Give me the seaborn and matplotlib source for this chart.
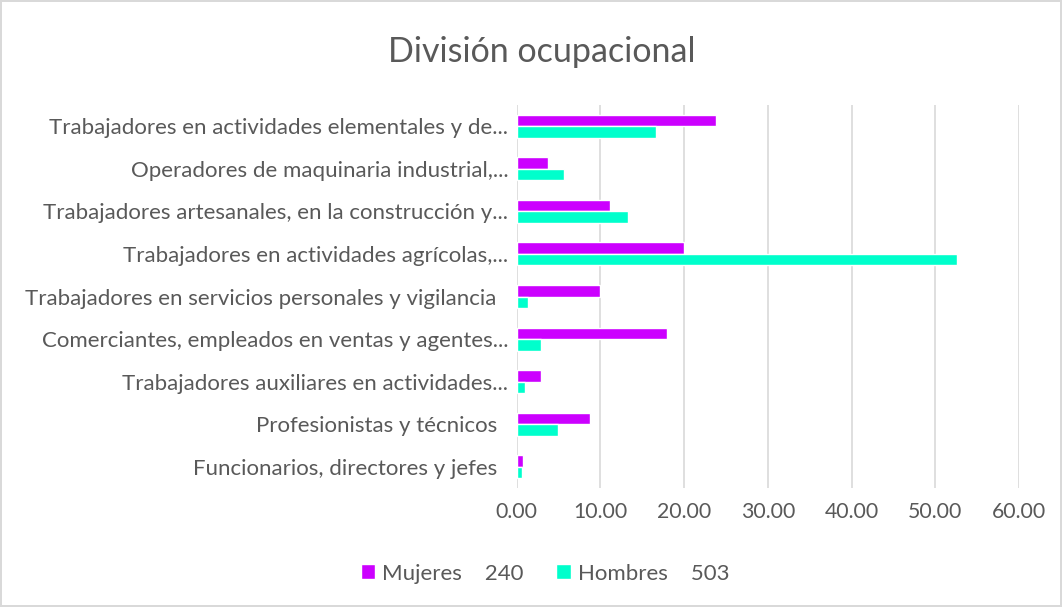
#occupational division chart, horizontal grouped bars
import pandas as pd
import numpy as np
import matplotlib
matplotlib.use('Agg')
import matplotlib.pyplot as plt
import seaborn as sns

categorias = ['Trabajadores en actividades elementales y de...',
              'Operadores de maquinaria industrial,...',
              'Trabajadores artesanales, en la construcción y...',
              'Trabajadores en actividades agrícolas,...',
              'Trabajadores en servicios personales y vigilancia\u00a0\u00a0',
              'Comerciantes, empleados en ventas y agentes...',
              'Trabajadores auxiliares en actividades...',
              'Profesionistas y técnicos\u00a0\u00a0',
              'Funcionarios, directores y jefes\u00a0\u00a0']
mujeres = [23.8, 3.7, 11.2, 20.0, 10.0, 17.9, 2.9, 8.8, 0.8]
hombres = [16.7, 5.6, 13.3, 52.6, 1.4, 2.9, 1.0, 4.9, 0.6]
series = ['Mujeres    240', 'Hombres    503']
xticks = [0, 10, 20, 30, 40, 50, 60]

df = pd.DataFrame({'cat': categorias * 2,
                   'valor': mujeres + hombres,
                   'serie': [series[0]] * len(categorias) + [series[1]] * len(categorias)})

sns.set_style('white')
plt.rcParams['font.family'] = ['Lato', 'DejaVu Sans']
gris = '#595959'

fig = plt.figure(figsize=(10.62, 6.07), dpi=100, edgecolor='#D9D9D9', linewidth=1.5)
ax = fig.add_axes([0.4865, 0.196, 0.4730, 0.631])

sns.barplot(data=df, y='cat', x='valor', hue='serie', orient='h', saturation=1,
            palette=['#CC00FF', '#00FFCC'], width=0.54, ax=ax, legend=True)

ax.set_xlim(0, 60)
ax.set_xticks(xticks)
ax.set_xticklabels(['%.2f' % t for t in xticks], fontsize=15.3, color=gris)
ax.tick_params(axis='y', labelsize=16, labelcolor=gris, length=0, pad=6)
ax.tick_params(axis='x', length=0, pad=10)
ax.xaxis.grid(True, color='#D9D9D9', linewidth=1.2)
ax.set_axisbelow(True)
for s in ax.spines.values():
    s.set_visible(False)
ax.set_xlabel('')
ax.set_ylabel('')

ax.legend(loc='center', ncol=2, frameon=False, fontsize=16, labelcolor=gris,
          handlelength=0.65, handleheight=0.65, handletextpad=0.3, columnspacing=1.5)
ax.get_legend().set_bbox_to_anchor((0.513, 0.055), transform=fig.transFigure)

fig.text(0.51, 0.915, 'División ocupacional', ha='center', va='center', fontsize=24.5, color=gris)

fig.savefig('out.png', dpi=100)
